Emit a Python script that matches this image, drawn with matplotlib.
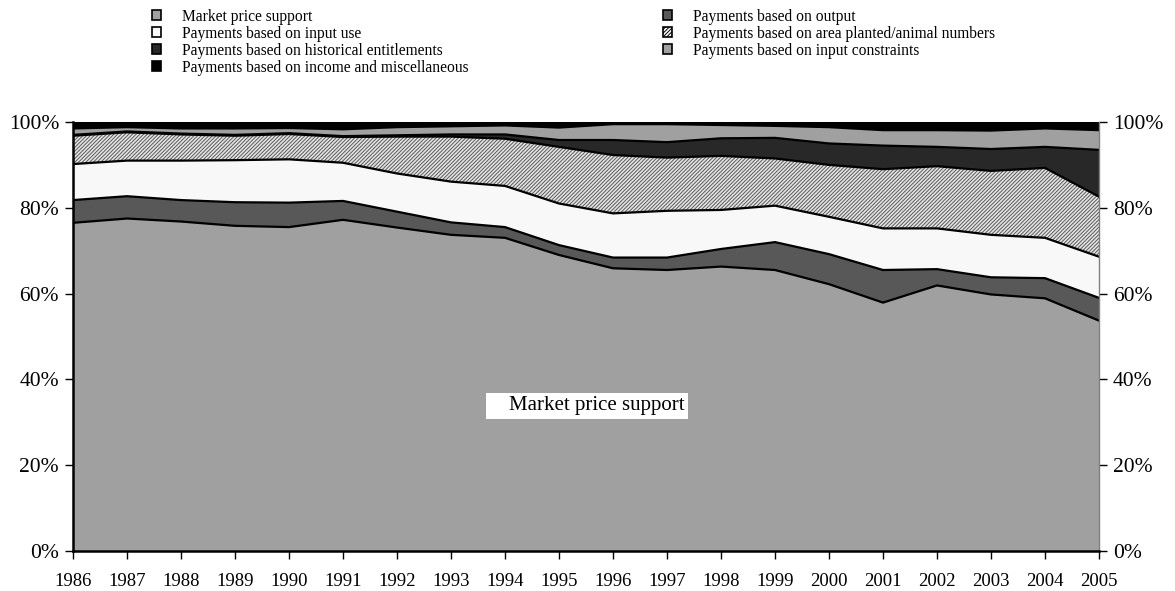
import matplotlib
matplotlib.use("Agg")
import matplotlib.pyplot as plt
from matplotlib.patches import Patch, Rectangle
import numpy as np

plt.rcParams['font.family'] = ['Liberation Serif', 'DejaVu Serif']
plt.rcParams['hatch.linewidth'] = 0.7

years = list(range(1986, 2006))
market_price_support = [76.5, 77.5, 76.8, 75.8, 75.5, 77.2, 75.4, 73.7, 73.0, 69.0,
                        65.9, 65.5, 66.3, 65.5, 62.2, 57.9, 61.9, 59.8, 58.9, 53.7]
output_payments = [5.3, 5.2, 5.0, 5.5, 5.7, 4.4, 3.7, 2.9, 2.5, 2.3,
                   2.5, 2.9, 4.1, 6.5, 7.0, 7.6, 3.8, 4.0, 4.7, 5.3]
input_use = [8.4, 8.3, 9.2, 9.8, 10.1, 8.9, 8.9, 9.5, 9.6, 9.7,
             10.3, 10.9, 9.1, 8.5, 8.7, 9.7, 9.5, 9.9, 9.4, 9.6]
area_animal = [6.6, 6.6, 6.1, 5.7, 5.9, 6.0, 8.6, 10.5, 11.0, 13.2,
               13.6, 12.4, 12.6, 11.0, 12.1, 13.8, 14.5, 14.9, 16.3, 14.0]
historical = [0.2, 0.2, 0.2, 0.2, 0.2, 0.2, 0.3, 0.5, 1.0, 1.6,
              3.5, 3.6, 4.1, 4.8, 5.0, 5.5, 4.5, 5.1, 4.9, 10.9]
input_constraints = [1.5, 1.0, 1.2, 1.5, 1.2, 1.6, 1.9, 1.9, 2.1, 2.9,
                     3.7, 4.2, 3.1, 2.8, 3.8, 3.6, 3.9, 4.3, 4.3, 4.6]
income_misc = [1.5, 1.2, 1.5, 1.5, 1.4, 1.7, 1.2, 1.0, 0.8, 1.3,
               0.5, 0.5, 0.7, 0.9, 1.2, 1.9, 1.9, 2.0, 1.5, 1.9]

labels = ["Market price support", "Payments based on output", "Payments based on input use",
          "Payments based on area planted/animal numbers", "Payments based on historical entitlements",
          "Payments based on input constraints", "Payments based on income and miscellaneous"]
series = [market_price_support, output_payments, input_use, area_animal,
          historical, input_constraints, income_misc]
colors = ['#a0a0a0', '#585858', '#f8f8f8', '#e4e4e4', '#282828', '#a0a0a0', '#000000']
hatches = [None, None, None, '/////////', None, None, None]

fig = plt.figure(figsize=(11.75, 5.91), dpi=100)
ax = fig.add_axes([73/1175, 1-551/591, (1099-73)/1175, (551-122)/591])

x = np.array(years)
data = np.array(series, dtype=float)
# normalise each year to 100%
data = data / data.sum(axis=0) * 100
cum = np.cumsum(data, axis=0)
lower = np.zeros(len(years))
for i in range(len(series)):
    upper = cum[i]
    if hatches[i]:
        ax.fill_between(x, lower, upper, facecolor=colors[i], edgecolor='#5a5a5a',
                        hatch=hatches[i], linewidth=0)
    else:
        ax.fill_between(x, lower, upper, facecolor=colors[i], linewidth=0)
    lower = upper
for i in range(len(series) - 1):
    ax.plot(x, cum[i], color='black', lw=1.6, solid_joinstyle='miter')

ax.set_xlim(years[0], years[-1])
ax.set_ylim(0, 100)
ax.set_xticks(years)
ax.set_xticklabels([str(y) for y in years], fontsize=13.5)
yt = [0, 20, 40, 60, 80, 100]
ax.set_yticks(yt)
ax.set_yticklabels([f"{v}%" for v in yt], fontsize=15.5)
ax.tick_params(axis='x', direction='out', length=6, width=1, pad=10)
ax.tick_params(axis='y', direction='out', length=6, width=1, pad=4,
               left=True, right=True, labelleft=True, labelright=True)
ax.spines['top'].set_visible(False)
ax.spines['right'].set_color('#808080')
ax.spines['right'].set_linewidth(1)
ax.spines['left'].set_linewidth(1.8)
ax.spines['bottom'].set_linewidth(1.8)

# in-chart label
ax.add_patch(Rectangle((1993.65, 30.8), 3.74, 6.0, facecolor='white', edgecolor='none', zorder=5))
ax.text(1995.70, 33.8, "Market price support", fontsize=15, ha='center', va='center', zorder=6)

handles = [Patch(facecolor=colors[i] if not hatches[i] else 'white', edgecolor='black',
                 hatch=hatches[i], linewidth=1.2)
           for i in range(len(series))]
col1 = [0, 2, 4, 6]
col2 = [1, 3, 5]
common = dict(frameon=False, borderpad=0, handlelength=0.62, handleheight=0.62,
              handletextpad=1.3, labelspacing=0.06, fontsize=11.2, loc='upper left')
leg1 = fig.legend([handles[i] for i in col1], [labels[i] for i in col1],
                  bbox_to_anchor=(144/1175, 1-1/591), **common)
leg2 = fig.legend([handles[i] for i in col2], [labels[i] for i in col2],
                  bbox_to_anchor=(655/1175, 1-1/591), **common)

fig.savefig("out.png", dpi=100, facecolor='white')
